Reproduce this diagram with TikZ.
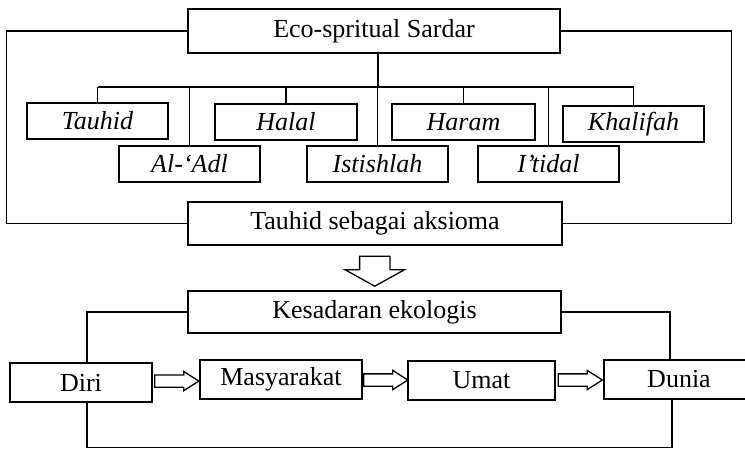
\documentclass[tikz,border=0pt]{standalone}
\usepackage{fontspec}
\setmainfont{Liberation Serif}
\usetikzlibrary{shapes.arrows}

\begin{document}
\begin{tikzpicture}[x=1pt,y=-1pt,
  box/.style={draw,line width=1.5pt,inner sep=0pt,minimum height=#1,font=\fontsize{26}{30}\selectfont},
  box/.default=36,
  link/.style={line width=1.4pt},
  harrow/.style={single arrow,draw,line width=1.3pt,inner xsep=0pt,inner ysep=5.5pt,outer sep=0pt,xshift=-4pt,
    minimum height=44pt,minimum width=18pt,single arrow head extend=3.5pt,single arrow tip angle=65},
  varrow/.style={single arrow,draw,line width=1.3pt,inner xsep=0pt,inner ysep=14.5pt,outer sep=0pt,rotate=-90,
    minimum height=30pt,minimum width=58pt,single arrow head extend=14.5pt,single arrow tip angle=122}]
\useasboundingbox (0,0) rectangle (745,450);
\node[box=44,minimum width=372] (eco) at (374,31){Eco-spritual Sardar};
\node[box,minimum width=141] (tauhid) at (97.5,121){\itshape Tauhid};
\node[box,minimum width=142] (halal) at (286,122){\itshape Halal};
\node[box,minimum width=143] (haram) at (463.5,122){\itshape Haram};
\node[box,minimum width=141] (khalifah) at (633.5,124){\itshape Khalifah};
\node[box,minimum width=141] (adl) at (189.5,164){\itshape Al-‘Adl};
\node[box,minimum width=141] (istishlah) at (377.5,164){\itshape Istishlah};
\node[box,minimum width=141] (itidal) at (548.5,164){\itshape I’tidal};
\node[box=43,minimum width=374] (aksioma) at (375,223.5){Tauhid sebagai aksioma};
\coordinate (bus) at (378,87);
\draw[link] (bus |- eco.south) -- (bus);
\draw[link] (bus -| tauhid.north) -- (bus -| khalifah.north);
\foreach \n in {tauhid,halal,haram,khalifah,adl,istishlah,itidal}
  \draw[link] (bus -| \n.north) -- (\n.north);
\draw[link] (eco.west) -- ++(-181,0) |- (aksioma.west);
\draw[link] (eco.east) -- ++(171,0) |- (aksioma.east);
\node[box=42,minimum width=373] (kesadaran) at (374.5,312){Kesadaran ekologis};
\path (aksioma) -- (kesadaran) node[midway,yshift=1pt,varrow] (down){};
\node[box=39,minimum width=142] (diri) at (81,382.5){Diri};
\node[box=39,minimum width=162] (masyarakat) at (281,379.5){Masyarakat};
\node[box=39,minimum width=147] (umat) at (481.5,380.5){Umat};
\node[box=39,minimum width=150] (dunia) at (679,379.5){Dunia};
\path (diri) -- (masyarakat) node[midway,harrow] (a1){};
\path (masyarakat) -- (umat) node[midway,harrow] (a2){};
\path (umat) -- (dunia) node[midway,harrow] (a3){};
\draw[link] (kesadaran.west) -| ([xshift=6pt]diri.north);
\draw[link] (kesadaran.east) -| ([xshift=-9pt]dunia.north);
\draw[link] ([xshift=6pt]diri.south) -- ++(0,45) -| ([xshift=-7pt]dunia.south);
\end{tikzpicture}
\end{document}
